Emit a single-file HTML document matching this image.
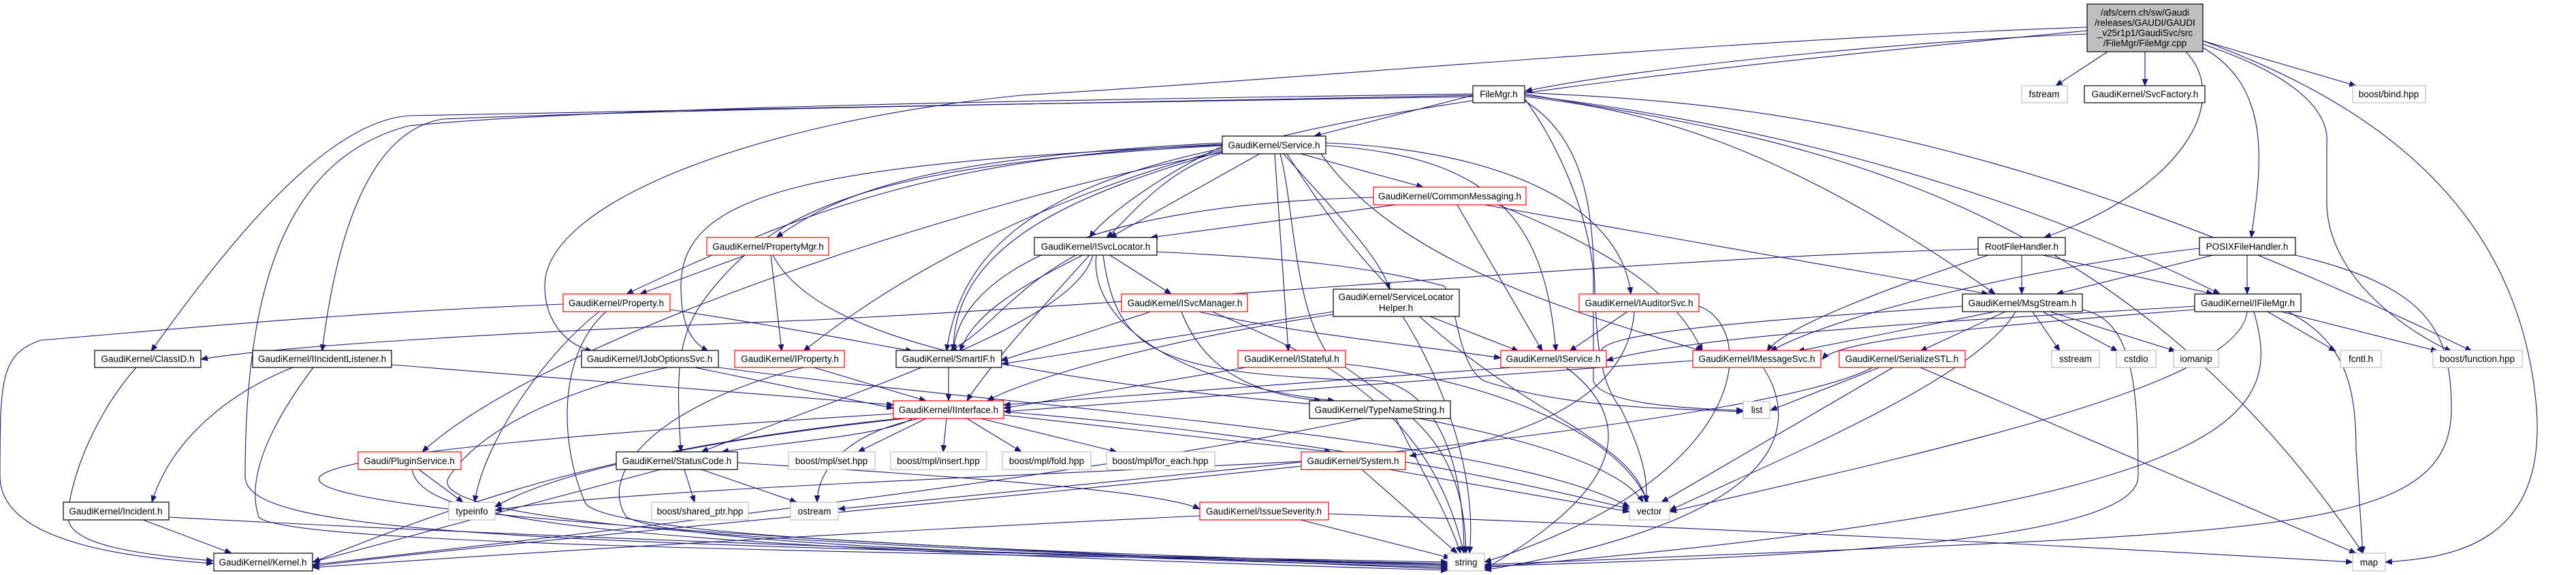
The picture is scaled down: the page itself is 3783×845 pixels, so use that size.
<!DOCTYPE html>
<html><head><meta charset="utf-8"><style>
html,body{margin:0;padding:0;background:#fff;width:3783px;height:845px;overflow:hidden}
svg{display:block}
text{font-family:"Liberation Sans",sans-serif;font-size:13.5px;fill:#000}
.e{fill:none;stroke:#191970;stroke-width:1.1}
</style></head><body>
<svg width="3783" height="845" viewBox="0 0 3783 845" xmlns="http://www.w3.org/2000/svg">
<defs><marker id="a" viewBox="0 0 10 10" refX="9" refY="5" markerWidth="11" markerHeight="11" markerUnits="userSpaceOnUse" orient="auto"><path d="M0,1 L10,5 L0,9 z" fill="#191970"/></marker></defs>
<g class="e" marker-end="url(#a)">
<path d="M3065 50 C2800 60 2400 100 2240 134"/>
<path d="M3095 76 L3019 126"/>
<path d="M3150 76 L3150 126"/>
<path d="M3235 60 L3460 126"/>
<path d="M3210 76 C3280 150 3200 280 3002 349"/>
<path d="M3235 70 C3340 130 3320 250 3306 349"/>
<path d="M3235 60 C3480 150 3700 300 3725 600 C3740 800 3600 820 3503 826"/>
<path d="M3235 65 C3400 120 3420 180 3417 210 L3417 300 C3420 420 3560 500 3600 516"/>
<path d="M3065 45 C2600 90 2000 150 1780 230 C1700 260 1650 330 1625 349"/>
<path d="M3065 40 C2500 60 2000 110 1500 140 C1100 180 800 300 800 420 C800 480 840 510 870 516"/>
<path d="M2163 140 L1930 200"/>
<path d="M2163 142 C1700 150 1000 160 600 170 C470 180 320 380 222 516"/>
<path d="M2163 140 C1700 150 1000 160 650 175 C530 195 490 380 473 516"/>
<path d="M2163 138 C1700 145 900 155 600 185 C430 230 360 400 360 700 C360 780 700 800 2126 826"/>
<path d="M2239 142 C2400 160 2600 200 2930 432"/>
<path d="M2239 140 C2500 170 2900 250 3260 432"/>
<path d="M2239 138 C2600 200 3100 260 3470 813"/>
<path d="M2239 145 C2280 200 2330 300 2340 400 L2340 560 C2350 590 2450 600 2560 603"/>
<path d="M2239 148 C2400 250 2300 500 2380 600 C2420 680 2420 720 2416 738"/>
<path d="M2239 136 C2500 150 2900 160 3630 516"/>
<path d="M1850 226 L1630 349"/>
<path d="M1795 215 C1700 260 1620 320 1600 349"/>
<path d="M1910 226 L2090 275"/>
<path d="M1795 222 C1600 280 1400 350 1400 516"/>
<path d="M1795 218 C1500 280 1410 380 1390 516"/>
<path d="M1795 212 C1400 230 1200 300 920 432"/>
<path d="M1795 210 C1400 230 1250 270 1140 349"/>
<path d="M1795 220 C1500 300 1300 420 1180 516"/>
<path d="M1947 214 C2200 230 2270 330 2285 516"/>
<path d="M1947 210 C2200 220 2380 300 2395 432"/>
<path d="M1885 226 C1950 300 2030 380 2040 425"/>
<path d="M1872 226 L1892 516"/>
<path d="M1795 224 C1400 300 800 500 620 664"/>
<path d="M1795 214 C1300 240 1150 300 1050 420 C1000 480 990 520 1000 664"/>
<path d="M1795 213 C1200 240 1000 280 1000 420 C1000 470 1010 500 1040 516"/>
<path d="M1880 226 C1900 300 1900 450 1950 520 C2050 600 2150 630 2153 813"/>
<path d="M1890 226 C2000 400 2100 500 2300 620 C2380 670 2410 700 2418 738"/>
<path d="M1940 226 C2050 380 2280 450 2500 516"/>
<path d="M2050 301 L1690 349"/>
<path d="M2017 290 C1600 300 1410 400 1400 516"/>
<path d="M2140 301 L2265 516"/>
<path d="M2180 301 L2920 432"/>
<path d="M2200 301 C2400 380 2470 450 2500 516"/>
<path d="M1590 375 C1500 420 1430 460 1410 516"/>
<path d="M1580 375 C1480 430 1460 480 1395 516"/>
<path d="M1600 375 C1550 430 1450 540 1420 589"/>
<path d="M1630 375 L1720 432"/>
<path d="M1610 375 C1600 460 1700 560 1960 589"/>
<path d="M1620 375 C1640 520 1700 550 2030 560 C2120 580 2150 700 2150 813"/>
<path d="M1699 370 C1900 380 2000 390 2120 420 C2140 440 2140 540 2180 560 C2300 600 2450 600 2560 605"/>
<path d="M1605 375 C1580 470 1300 560 1030 664"/>
<path d="M1095 375 L940 432"/>
<path d="M1132 375 L1148 516"/>
<path d="M1135 375 C1200 500 1500 560 2000 600 C2300 650 2390 700 2413 738"/>
<path d="M984 455 C1150 480 1250 500 1340 516"/>
<path d="M880 458 C800 520 710 650 697 738"/>
<path d="M890 458 C820 520 820 650 860 740 C900 790 1500 810 2126 830"/>
<path d="M827 447 C500 460 300 480 60 500 C0 520 0 560 0 700 C0 800 200 820 313 828"/>
<path d="M1690 458 L1470 530"/>
<path d="M1760 458 C1900 490 2100 510 2204 526"/>
<path d="M1735 458 C1770 550 1850 580 1940 589"/>
<path d="M1780 458 C1950 530 2100 600 2150 813"/>
<path d="M1958 458 L1471 535"/>
<path d="M1958 462 C1700 500 1500 560 1450 589"/>
<path d="M2060 465 C2120 560 2170 700 2158 813"/>
<path d="M2100 465 L2230 516"/>
<path d="M2390 458 L2305 516"/>
<path d="M2400 458 C2390 600 2200 650 2070 670"/>
<path d="M2495 450 C2580 480 2580 700 2180 826"/>
<path d="M2969 375 L2969 432"/>
<path d="M3000 375 L3250 432"/>
<path d="M2920 375 C2780 420 2620 480 2595 516"/>
<path d="M2905 366 C2400 380 1800 440 1200 470 C700 490 400 510 295 528"/>
<path d="M3300 375 L3300 432"/>
<path d="M3250 375 L3020 432"/>
<path d="M3230 365 C3000 390 2700 460 2600 516"/>
<path d="M3371 375 C3560 420 3600 480 3600 600 C3600 800 3300 780 2180 830"/>
<path d="M2930 458 L2640 516"/>
<path d="M2945 458 L2820 516"/>
<path d="M2985 458 L3025 516"/>
<path d="M3000 458 L3110 516"/>
<path d="M3010 458 L3195 516"/>
<path d="M3058 455 C3130 470 3140 560 3140 700 C3140 800 2600 820 2180 832"/>
<path d="M2960 458 C2900 560 2600 680 2452 750"/>
<path d="M2882 450 C2600 470 2300 490 2359 525"/>
<path d="M3223 450 C2900 470 2500 490 2359 530"/>
<path d="M3223 455 C2900 480 2700 500 2676 528"/>
<path d="M3330 458 L3430 516"/>
<path d="M3350 458 L3580 516"/>
<path d="M3360 458 C3440 500 3460 560 3460 660 L3470 813"/>
<path d="M3300 458 C3290 560 2900 650 2452 752"/>
<path d="M3310 458 C3350 600 3330 740 2180 834"/>
<path d="M200 540 C130 620 100 720 100 760 C100 800 200 815 313 824"/>
<path d="M430 540 C330 580 250 650 223 738"/>
<path d="M575 536 L1312 595"/>
<path d="M460 540 C400 620 360 700 380 760 C420 800 1200 810 2126 828"/>
<path d="M1020 540 L1312 600"/>
<path d="M980 540 C800 580 700 640 660 700 C600 780 1400 810 2126 832"/>
<path d="M1055 540 C1500 600 2200 640 2393 745"/>
<path d="M1195 540 L1360 589"/>
<path d="M1180 540 C950 600 880 700 920 760 C1000 800 1500 815 2126 834"/>
<path d="M1393 540 L1393 589"/>
<path d="M1830 540 L1474 600"/>
<path d="M1976 535 C2200 560 2380 640 2420 738"/>
<path d="M2220 540 L1474 595"/>
<path d="M2300 540 C2380 600 2420 700 2180 836"/>
<path d="M2486 530 L1474 605"/>
<path d="M2590 541 C2640 620 2640 760 2180 838"/>
<path d="M2760 540 L2600 603"/>
<path d="M2780 540 L2440 738"/>
<path d="M2820 540 L3460 813"/>
<path d="M2750 540 C2600 620 1800 690 1231 748"/>
<path d="M1320 615 C900 660 700 730 460 826"/>
<path d="M1340 615 C1300 640 1150 650 1060 664"/>
<path d="M1360 615 L1260 664"/>
<path d="M1390 615 L1385 664"/>
<path d="M1420 615 L1500 664"/>
<path d="M1440 615 L1640 664"/>
<path d="M1474 610 L1955 664"/>
<path d="M1330 615 C1000 650 800 700 727 745"/>
<path d="M1350 615 C1230 640 1200 700 1200 738"/>
<path d="M1312 608 C800 640 500 670 470 700 C420 760 1500 812 2126 836"/>
<path d="M1474 605 C1900 640 2200 700 2393 748"/>
<path d="M2050 615 C2080 680 2120 740 2145 813"/>
<path d="M2000 615 C1600 700 900 780 459 830"/>
<path d="M615 690 L680 738"/>
<path d="M605 690 C620 760 800 800 2126 838"/>
<path d="M970 690 L459 826"/>
<path d="M1005 690 L1020 738"/>
<path d="M1030 690 L1170 738"/>
<path d="M1083 680 C1400 700 1700 720 1762 748"/>
<path d="M2000 690 L2140 813"/>
<path d="M2040 690 L2393 752"/>
<path d="M1911 678 C1500 700 900 720 727 750"/>
<path d="M1911 685 C1400 740 800 790 459 832"/>
<path d="M210 764 L340 813"/>
<path d="M248 760 C800 790 1500 815 2126 830"/>
<path d="M1910 764 L2130 820"/>
<path d="M1951 755 C2600 780 3000 800 3455 826"/>
<path d="M1762 758 C1300 780 800 810 459 834"/>
</g>
<g stroke-width="1.2">
<rect x="3065" y="6" width="170" height="70" fill="#bfbfbf" stroke="#000"/>
<g fill="#fff">
<rect x="2163" y="126" width="76" height="25" stroke="#000"/>
<rect x="2969" y="126" width="67" height="25" stroke="#bfbfbf"/>
<rect x="3061" y="126" width="177" height="25" stroke="#000"/>
<rect x="3455" y="126" width="107" height="25" stroke="#bfbfbf"/>
<rect x="1795" y="200" width="152" height="26" stroke="#000"/>
<rect x="2017" y="275" width="224" height="26" stroke="#f00"/>
<rect x="1519" y="349" width="180" height="26" stroke="#000"/>
<rect x="1038" y="349" width="179" height="26" stroke="#f00"/>
<rect x="2905" y="349" width="128" height="26" stroke="#000"/>
<rect x="3230" y="349" width="141" height="26" stroke="#000"/>
<rect x="827" y="432" width="157" height="26" stroke="#f00"/>
<rect x="1647" y="432" width="185" height="26" stroke="#f00"/>
<rect x="1958" y="425" width="185" height="40" stroke="#000"/>
<rect x="2319" y="432" width="176" height="26" stroke="#f00"/>
<rect x="2882" y="432" width="176" height="26" stroke="#000"/>
<rect x="3223" y="432" width="156" height="26" stroke="#000"/>
<rect x="139" y="515" width="156" height="25" stroke="#000"/>
<rect x="371" y="515" width="204" height="25" stroke="#000"/>
<rect x="854" y="515" width="201" height="25" stroke="#000"/>
<rect x="1079" y="515" width="161" height="25" stroke="#f00"/>
<rect x="1316" y="515" width="155" height="25" stroke="#000"/>
<rect x="1818" y="515" width="158" height="25" stroke="#f00"/>
<rect x="2204" y="515" width="155" height="25" stroke="#f00"/>
<rect x="2486" y="515" width="188" height="25" stroke="#f00"/>
<rect x="2701" y="515" width="185" height="25" stroke="#f00"/>
<rect x="3013" y="515" width="70" height="25" stroke="#bfbfbf"/>
<rect x="3108" y="515" width="58" height="25" stroke="#bfbfbf"/>
<rect x="3192" y="515" width="66" height="25" stroke="#bfbfbf"/>
<rect x="3437" y="515" width="60" height="25" stroke="#bfbfbf"/>
<rect x="3573" y="515" width="131" height="25" stroke="#bfbfbf"/>
<rect x="1312" y="589" width="162" height="26" stroke="#f00"/>
<rect x="1923" y="589" width="207" height="26" stroke="#000"/>
<rect x="2560" y="590" width="39" height="25" stroke="#bfbfbf"/>
<rect x="526" y="664" width="151" height="26" stroke="#f00"/>
<rect x="905" y="664" width="178" height="26" stroke="#000"/>
<rect x="1158" y="664" width="127" height="26" stroke="#bfbfbf"/>
<rect x="1308" y="664" width="141" height="26" stroke="#bfbfbf"/>
<rect x="1472" y="664" width="130" height="26" stroke="#bfbfbf"/>
<rect x="1625" y="664" width="159" height="26" stroke="#bfbfbf"/>
<rect x="1911" y="664" width="153" height="26" stroke="#f00"/>
<rect x="93" y="738" width="155" height="26" stroke="#000"/>
<rect x="659" y="738" width="68" height="26" stroke="#bfbfbf"/>
<rect x="957" y="738" width="142" height="26" stroke="#bfbfbf"/>
<rect x="1161" y="738" width="70" height="26" stroke="#bfbfbf"/>
<rect x="1762" y="738" width="189" height="26" stroke="#f00"/>
<rect x="2393" y="738" width="59" height="26" stroke="#bfbfbf"/>
<rect x="314" y="813" width="145" height="26" stroke="#000"/>
<rect x="2126" y="813" width="54" height="26" stroke="#bfbfbf"/>
<rect x="3455" y="813" width="48" height="26" stroke="#bfbfbf"/>
</g></g>
<g text-anchor="middle">
<text x="3150" y="23">/afs/cern.ch/sw/Gaudi</text>
<text x="3150" y="38">/releases/GAUDI/GAUDI</text>
<text x="3150" y="53">_v25r1p1/GaudiSvc/src</text>
<text x="3150" y="68">/FileMgr/FileMgr.cpp</text>
<text x="2201" y="143">FileMgr.h</text>
<text x="3002" y="143">fstream</text>
<text x="3150" y="143">GaudiKernel/SvcFactory.h</text>
<text x="3508" y="143">boost/bind.hpp</text>
<text x="1871" y="218">GaudiKernel/Service.h</text>
<text x="2129" y="293">GaudiKernel/CommonMessaging.h</text>
<text x="1609" y="367">GaudiKernel/ISvcLocator.h</text>
<text x="1128" y="367">GaudiKernel/PropertyMgr.h</text>
<text x="2969" y="367">RootFileHandler.h</text>
<text x="3300" y="367">POSIXFileHandler.h</text>
<text x="905" y="450">GaudiKernel/Property.h</text>
<text x="1740" y="450">GaudiKernel/ISvcManager.h</text>
<text x="2050" y="441">GaudiKernel/ServiceLocator</text>
<text x="2050" y="457">Helper.h</text>
<text x="2407" y="450">GaudiKernel/IAuditorSvc.h</text>
<text x="2970" y="450">GaudiKernel/MsgStream.h</text>
<text x="3301" y="450">GaudiKernel/IFileMgr.h</text>
<text x="217" y="532">GaudiKernel/ClassID.h</text>
<text x="473" y="532">GaudiKernel/IIncidentListener.h</text>
<text x="954" y="532">GaudiKernel/IJobOptionsSvc.h</text>
<text x="1160" y="532">GaudiKernel/IProperty.h</text>
<text x="1393" y="532">GaudiKernel/SmartIF.h</text>
<text x="1897" y="532">GaudiKernel/IStateful.h</text>
<text x="2281" y="532">GaudiKernel/IService.h</text>
<text x="2580" y="532">GaudiKernel/IMessageSvc.h</text>
<text x="2793" y="532">GaudiKernel/SerializeSTL.h</text>
<text x="3048" y="532">sstream</text>
<text x="3137" y="532">cstdio</text>
<text x="3225" y="532">iomanip</text>
<text x="3467" y="532">fcntl.h</text>
<text x="3638" y="532">boost/function.hpp</text>
<text x="1393" y="607">GaudiKernel/IInterface.h</text>
<text x="2026" y="607">GaudiKernel/TypeNameString.h</text>
<text x="2580" y="607">list</text>
<text x="601" y="682">Gaudi/PluginService.h</text>
<text x="994" y="682">GaudiKernel/StatusCode.h</text>
<text x="1221" y="682">boost/mpl/set.hpp</text>
<text x="1378" y="682">boost/mpl/insert.hpp</text>
<text x="1537" y="682">boost/mpl/fold.hpp</text>
<text x="1704" y="682">boost/mpl/for_each.hpp</text>
<text x="1987" y="682">GaudiKernel/System.h</text>
<text x="170" y="756">GaudiKernel/Incident.h</text>
<text x="693" y="756">typeinfo</text>
<text x="1028" y="756">boost/shared_ptr.hpp</text>
<text x="1196" y="756">ostream</text>
<text x="1856" y="756">GaudiKernel/IssueSeverity.h</text>
<text x="2422" y="756">vector</text>
<text x="386" y="831">GaudiKernel/Kernel.h</text>
<text x="2153" y="831">string</text>
<text x="3479" y="831">map</text>
</g>
</svg>
</body></html>
